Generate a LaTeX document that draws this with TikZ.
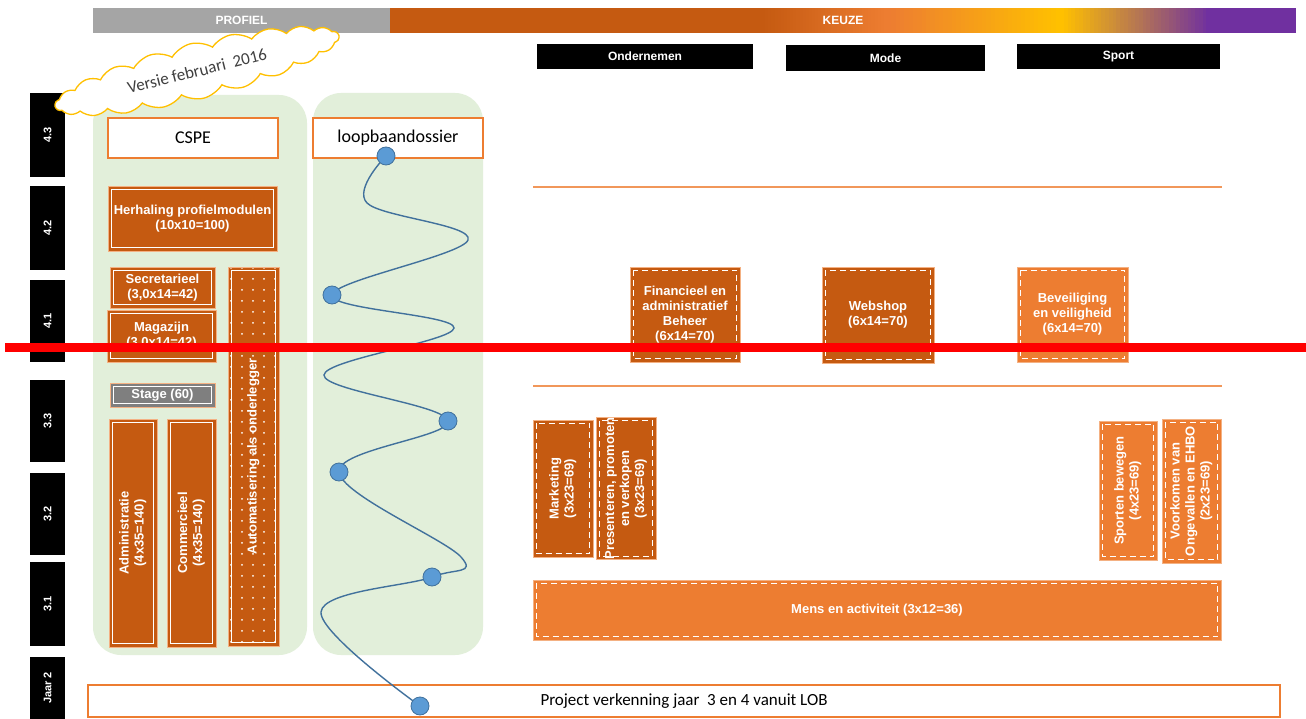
\documentclass[tikz,border=0pt]{standalone}
\usepackage{fontspec}
\setmainfont{Liberation Sans}
\newfontfamily\calfont{Carlito}
\usetikzlibrary{shapes.symbols,patterns.meta}
\definecolor{brn}{HTML}{C55A11}
\definecolor{org}{HTML}{ED7D31}
\definecolor{yel}{HTML}{FFC000}
\definecolor{pur}{HTML}{7030A0}
\definecolor{hgray}{HTML}{A5A5A5}
\definecolor{sgray}{HTML}{7F7F7F}
\definecolor{pgreen}{HTML}{E2EFDA}
\definecolor{dotblue}{HTML}{5B9BD5}
\definecolor{lineblue}{HTML}{41719C}
\definecolor{peach}{HTML}{F4B183}
\definecolor{cloudtext}{HTML}{404040}
\newcommand\frameIn[2][]{\draw[white,line width=1.3pt,#1] ([shift={(3.5pt,-3.5pt)}]#2.north west) rectangle ([shift={(-3.5pt,3.5pt)}]#2.south east);}
\newcommand\vtxt[1]{\rotatebox{90}{\begin{tabular}{@{}c@{}}#1\end{tabular}}}
\begin{document}
\begin{tikzpicture}[x=1pt,y=-1pt,
 hdr/.style={text=white,font=\bfseries\fontsize{12}{14}\selectfont,inner sep=0pt},
 tabbox/.style={fill=black,text=white,font=\bfseries\fontsize{12}{14}\selectfont,inner sep=0pt},
 lbl/.style={fill=black,text=white,font=\bfseries\fontsize{11}{13}\selectfont,inner sep=0pt,minimum width=35},
 panel/.style={fill=pgreen,rounded corners=28,inner sep=0pt},
 wbox/.style={fill=white,draw=org,line width=1.5pt,inner sep=0pt,font=\calfont\fontsize{18}{20}\selectfont},
 cbox/.style={inner sep=0pt,text=white,align=center,font=\bfseries\fontsize{13}{15}\selectfont,draw=peach,line width=0.6pt},
 dkbox/.style={cbox,fill=brn},
 ltbox/.style={cbox,fill=org},
 gbox/.style={cbox,fill=sgray},
 bluedot/.style={circle,fill=dotblue,draw=lineblue,line width=0.8pt,minimum size=18,inner sep=0pt},
 lobcurve/.style={draw=lineblue,line width=1.4pt},
 hline/.style={draw=org!80!white,line width=1.3pt}]
\useasboundingbox (0,0) rectangle (1306,719);
\fill[white] (0,0) rectangle (1306,719);

% header bars
\node[hdr,fill=hgray,minimum width=297,minimum height=25] (profiel) at (241.5,20.5) {PROFIEL};
\fill[brn] (390,8) rectangle (763,33);
\foreach \i in {0,...,39} {
  \pgfmathtruncatemacro\p{\i*100/39}
  \pgfmathsetmacro\xa{762+\i*125/40}
  \fill[org!\p!brn] (\xa,8) rectangle ({\xa+125/40+0.6},33);
}
\foreach \i in {0,...,39} {
  \pgfmathtruncatemacro\p{\i*100/39}
  \pgfmathsetmacro\xa{887+\i*173/40}
  \fill[yel!\p!org] (\xa,8) rectangle ({\xa+173/40+0.6},33);
}
\foreach \i in {0,...,39} {
  \pgfmathtruncatemacro\p{\i*100/39}
  \pgfmathsetmacro\xa{1060+\i*150/40}
  \fill[pur!\p!yel] (\xa,8) rectangle ({\xa+150/40+0.6},33);
}
\fill[pur] (1210,8) rectangle (1296,33);
\node[hdr] (keuze) at (843,20.5) {KEUZE};

\node[tabbox,minimum width=216,minimum height=25] (ond) at (645,56.5) {Ondernemen};
\node[tabbox,minimum width=199,minimum height=26] (mode) at (885.5,58) {Mode};
\node[tabbox,minimum width=203,minimum height=25] (sport) at (1118.5,56.5) {Sport};

% level labels
\node[lbl,minimum height=84] (l43) at (47.5,135) {\rotatebox{90}{4.3}};
\node[lbl,minimum height=84] (l42) at (47.5,228) {\rotatebox{90}{4.2}};
\node[lbl,minimum height=82] (l41) at (47.5,321) {\rotatebox{90}{4.1}};
\node[lbl,minimum height=82] (l33) at (47.5,421) {\rotatebox{90}{3.3}};
\node[lbl,minimum height=82] (l32) at (47.5,514) {\rotatebox{90}{3.2}};
\node[lbl,minimum height=84] (l31) at (47.5,604) {\rotatebox{90}{3.1}};
\node[lbl,minimum height=62] (lj2) at (47.5,688) {\rotatebox{90}{Jaar 2}};

% green panels
\node[panel,minimum width=214,minimum height=560] (p1) at (200,375) {};
\node[panel,minimum width=170,minimum height=562] (p2) at (398,374) {};

\node[wbox,minimum width=170,minimum height=40] (cspe) at (193,138) {CSPE};
\node[wbox,minimum width=170,minimum height=40] (loop) at (398,138) {loopbaandossier};

% profile boxes
\node[dkbox,minimum width=169,minimum height=65] (herh) at (192.5,218.5) {Herhaling profielmodulen\\(10x10=100)};
\node[dkbox,minimum width=105,minimum height=41] (secr) at (162.5,287.5) {Secretarieel\\(3,0x14=42)};
\node[dkbox,minimum width=109,minimum height=52] (mag) at (161.5,336) {Magazijn\\(3,0x14=42)};
\node[cbox,preaction={fill=brn},pattern={Dots[distance=11pt,radius=1pt]},pattern color=white,minimum width=51,minimum height=379] (auto) at (253.5,456.5) {\vtxt{Automatisering als onderlegger}};
\node[gbox,minimum width=105,minimum height=24] (stage) at (162.5,395) {Stage (60)};
\node[dkbox,minimum width=48,minimum height=228] (adm) at (133,533) {\vtxt{Administratie\\(4x35=140)}};
\node[dkbox,minimum width=49,minimum height=228] (comm) at (191.5,533) {\vtxt{Commercieel\\(4x35=140)}};
\foreach \b in {herh,secr,mag,auto,stage,adm,comm} {\frameIn{\b}}

% separators
\coordinate (s1a) at (533,187); \coordinate (s1b) at (1222,187);
\coordinate (s2a) at (533,386); \coordinate (s2b) at (1222,386);
\draw[hline] (s1a) -- (s1b);
\draw[hline] (s2a) -- (s2b);

% keuze boxes
\node[dkbox,minimum width=110,minimum height=95] (fin) at (685,314.5) {Financieel en\\administratief\\Beheer\\(6x14=70)};
\node[dkbox,minimum width=112,minimum height=96] (web) at (878,315) {Webshop\\(6x14=70)};
\node[ltbox,minimum width=111,minimum height=95] (bev) at (1072.5,314.5) {Beveiliging\\en veiligheid\\(6x14=70)};
\node[dkbox,minimum width=60,minimum height=137] (mark) at (563,488.5) {\vtxt{Marketing\\(3x23=69)}};
\node[dkbox,minimum width=60,minimum height=137] (pres) at (626,488.5) {\vtxt{Presenteren, promoten\\en verkopen\\(3x23=69)}};
\node[ltbox,minimum width=58,minimum height=139] (spb) at (1128,490.5) {\vtxt{Sporten bewegen\\(4x23=69)}};
\node[ltbox,minimum width=59,minimum height=144] (voork) at (1191.5,491) {\vtxt{Voorkomen van\\Ongevallen en EHBO\\(2x23=69)}};
\node[ltbox,minimum width=688,minimum height=60] (mens) at (877,610) {Mens en activiteit (3x12=36)};
\foreach \b in {fin,web,bev,mark,pres,spb,voork,mens} {\frameIn[dash pattern=on 6pt off 4pt]{\b}}

\node[wbox,minimum width=1192,minimum height=32,font=\calfont\fontsize{17}{19}\selectfont] (proj) at (684,701) {Project verkenning jaar\ \ 3 en 4 vanuit LOB};

% loopbaan curve
\coordinate (w1) at (367,203);
\coordinate (w2) at (468,240);
\coordinate (w3) at (454,328);
\coordinate (w4) at (324,375);
\coordinate (w5) at (461,557);
\coordinate (w6) at (321,612);
\coordinate (pd1) at (386,156);
\coordinate (pd2) at (332,295);
\coordinate (pd3) at (448,421);
\coordinate (pd4) at (339,472);
\coordinate (pd5) at (432,577);
\coordinate (pd6) at (420,706);
\draw[lobcurve] plot[smooth,tension=0.6] coordinates {(pd1) (w1) (w2) (pd2) (w3) (w4) (pd3) (pd4) (w5) (pd5) (w6) (pd6)};
\node[bluedot] (d1) at (pd1) {};
\node[bluedot] (d2) at (pd2) {};
\node[bluedot] (d3) at (pd3) {};
\node[bluedot] (d4) at (pd4) {};
\node[bluedot] (d5) at (pd5) {};
\node[bluedot] (d6) at (pd6) {};

% cloud
\node[cloud,cloud puffs=22,cloud puff arc=90,aspect=5.5,draw=yel,line width=1.3pt,fill=white,minimum width=292,minimum height=56,rotate=14,inner sep=0pt,text=cloudtext,font=\calfont\fontsize{17}{19}\selectfont] (versie) at (197,71) {Versie februari\ \ 2016};

% red line
\coordinate (ra) at (5,347); \coordinate (rb) at (1306,347);
\draw[red,line width=9pt] (ra) -- (rb);
\end{tikzpicture}
\end{document}
